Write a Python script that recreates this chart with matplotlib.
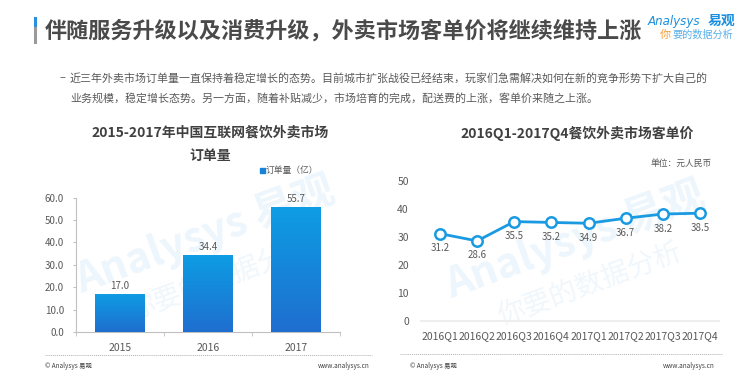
import matplotlib
matplotlib.use("Agg")
import matplotlib.pyplot as plt
import numpy as np
from matplotlib.colors import LinearSegmentedColormap

plt.rcParams['font.family'] = ['Noto Sans CJK SC', 'DejaVu Sans']

# ---------------- data ----------------
title_main = "伴随服务升级以及消费升级，外卖市场客单价将继续维持上涨"
body_line1 = "近三年外卖市场订单量一直保持着稳定增长的态势。目前城市扩张战役已经结束，玩家们急需解决如何在新的竞争形势下扩大自己的"
body_line2 = "业务规模，稳定增长态势。另一方面，随着补贴减少，市场培育的完成，配送费的上涨，客单价来随之上涨。"

bar_title = "2015-2017年中国互联网餐饮外卖市场\n订单量"
bar_years = ["2015", "2016", "2017"]
bar_values = [17.0, 34.4, 55.7]
bar_legend = "订单量（亿）"
bar_yticks = [0, 10, 20, 30, 40, 50, 60]

line_title = "2016Q1-2017Q4餐饮外卖市场客单价"
line_quarters = ["2016Q1", "2016Q2", "2016Q3", "2016Q4", "2017Q1", "2017Q2", "2017Q3", "2017Q4"]
line_values = [31.2, 28.6, 35.5, 35.2, 34.9, 36.7, 38.2, 38.5]
line_unit = "单位：元人民币"
line_yticks = [0, 10, 20, 30, 40, 50]

W, H = 755, 388
fig = plt.figure(figsize=(W / 100, H / 100), dpi=100)
fig.patch.set_facecolor('white')

def fx(x):
    return x / W

def fy(y):
    return 1 - y / H

TXT = '#595959'
BLUE = '#1a9ae0'

# ---------------- header ----------------
fig.add_artist(plt.Line2D([fx(35), fx(35)], [fy(18), fy(28)], color='#2b8fe0', lw=2.2))
fig.add_artist(plt.Line2D([fx(35), fx(35)], [fy(28), fy(42)], color='#9a9a9a', lw=2.2))
fig.text(fx(45), fy(31), title_main, fontsize=15.9, fontweight='bold', color='#4a4a4a',
         ha='left', va='center')
fig.text(fx(648), fy(21), "Analysys", fontsize=8.6, color='#1a8fe0', style='italic',
         ha='left', va='center', family=['DejaVu Sans'])
fig.text(fx(708), fy(21), "易观", fontsize=10, color='#1a8fe0', fontweight='bold',
         ha='left', va='center')
fig.text(fx(660), fy(35), "你", fontsize=8, color='#f39c34', ha='left', va='center')
fig.text(fx(672), fy(35), "要的数据分析", fontsize=7.3, color='#5aaee8', ha='left', va='center')

fig.text(fx(59), fy(78), "–", fontsize=8, color=TXT, ha='left', va='center')
fig.text(fx(70), fy(78), body_line1, fontsize=7.9, color=TXT, ha='left', va='center')
fig.text(fx(70), fy(98), body_line2, fontsize=7.9, color=TXT, ha='left', va='center')

# ---------------- watermarks (behind the charts) ----------------
for cx, cy in [(205, 250), (575, 255)]:
    fig.text(fx(cx), fy(cy - 15), "Analysys 易观", fontsize=30, color='#edf6fc',
             rotation=20, ha='center', va='center', fontweight='bold', zorder=0)
    fig.text(fx(cx + 15), fy(cy + 30), "你要的数据分析", fontsize=20, color='#f0f7fc',
             rotation=20, ha='center', va='center', zorder=0)

# ---------------- left bar chart ----------------
axL = fig.add_axes([fx(76), fy(332), fx(340) - fx(76), fy(197.7) - fy(332)])
axL.set_zorder(2)
axL.patch.set_alpha(0)
x = np.arange(len(bar_years))
bars = axL.bar(x, bar_values, width=0.56, color='#1782da', zorder=2)
cmap = LinearSegmentedColormap.from_list('g', ['#1f6ecf', '#0e9de4'])
grad = np.linspace(0, 1, 256).reshape(-1, 1)
for b in bars:
    bx, bw, bh = b.get_x(), b.get_width(), b.get_height()
    im = axL.imshow(grad, extent=[bx, bx + bw, 0, bh], origin='lower', aspect='auto',
                    cmap=cmap, zorder=3)
    im.set_clip_path(b)
for xi, v in zip(x, bar_values):
    axL.text(xi, v + 1.5, f"{v:.1f}", ha='center', va='bottom', fontsize=7, color=TXT)
axL.set_xlim(-0.5, len(bar_years) - 0.5)
axL.set_ylim(0, 60)
axL.set_yticks(bar_yticks)
axL.set_yticklabels([f"{t:.1f}" for t in bar_yticks], fontsize=7, color=TXT)
axL.set_xticks(x)
axL.set_xticklabels(bar_years, fontsize=7.5, color=TXT)
axL.tick_params(axis='x', length=0, pad=8)
axL.set_xticks(np.arange(-0.5, len(bar_years), 1.0), minor=True)
axL.tick_params(axis='x', which='minor', length=3, color='#c0c0c0', direction='out')
axL.tick_params(axis='y', length=2.5, color='#c0c0c0', pad=6)
for s in ['top', 'right']:
    axL.spines[s].set_visible(False)
for s in ['left', 'bottom']:
    axL.spines[s].set_color('#c0c0c0')
    axL.spines[s].set_linewidth(0.8)

fig.text(fx(210), fy(133), "2015-2017年中国互联网餐饮外卖市场", fontsize=10, fontweight='bold',
         color='#404040', ha='center', va='center')
fig.text(fx(210), fy(156), "订单量", fontsize=10, fontweight='bold',
         color='#404040', ha='center', va='center')
fig.patches.append(plt.Rectangle((fx(260), fy(172.5)), fx(4.5), fy(0) - fy(4.5),
                                 transform=fig.transFigure, color='#1782da', figure=fig))
fig.text(fx(266), fy(170), bar_legend, fontsize=6.3, color=TXT, ha='left', va='center')

# ---------------- right line chart ----------------
axR = fig.add_axes([fx(421.4), fy(321), fx(718.6) - fx(421.4), fy(181) - fy(321)])
axR.set_zorder(2)
axR.patch.set_alpha(0)
xq = np.arange(len(line_quarters))
axR.plot(xq, line_values, color=BLUE, lw=2, marker='o', markersize=7.5,
         markerfacecolor='white', markeredgecolor=BLUE, markeredgewidth=1.8,
         clip_on=False, zorder=3)
for xi, v in zip(xq, line_values):
    axR.text(xi, v - 3.4, f"{v:.1f}", ha='center', va='top', fontsize=7, color=TXT)
axR.set_xlim(-0.5, len(line_quarters) - 0.5)
axR.set_ylim(0, 50)
axR.set_yticks(line_yticks)
axR.set_yticklabels([str(t) for t in line_yticks], fontsize=7.5, color=TXT)
axR.set_xticks(xq)
axR.set_xticklabels(line_quarters, fontsize=7.5, color=TXT)
axR.tick_params(axis='both', length=0)
axR.tick_params(axis='x', pad=7)
axR.tick_params(axis='y', pad=9)
for s in ['top', 'right', 'left']:
    axR.spines[s].set_visible(False)
axR.spines['bottom'].set_color('#eeeeee')
axR.spines['bottom'].set_linewidth(1.5)

fig.text(fx(577), fy(133), line_title, fontsize=10, fontweight='bold',
         color='#404040', ha='center', va='center')
fig.text(fx(712), fy(163), line_unit, fontsize=6.3, color=TXT, ha='right', va='center')

# ---------------- footers ----------------
for x0, x1, y in [(45, 372, 354.5), (400, 722, 353.5)]:
    fig.add_artist(plt.Line2D([fx(x0), fx(x1)], [fy(y), fy(y)], color='#b0b0b0',
                              lw=0.7, linestyle=(0, (1, 1))))
for xl, xr in [(45, 370), (410, 715)]:
    fig.text(fx(xl), fy(365.5), "© Analysys 易观", fontsize=4.6, color='#404040',
             ha='left', va='center')
    fig.text(fx(xr), fy(365.5), "www.analysys.cn", fontsize=4.6, color='#404040',
             ha='right', va='center')

fig.savefig("out.png", dpi=100, facecolor='white')
